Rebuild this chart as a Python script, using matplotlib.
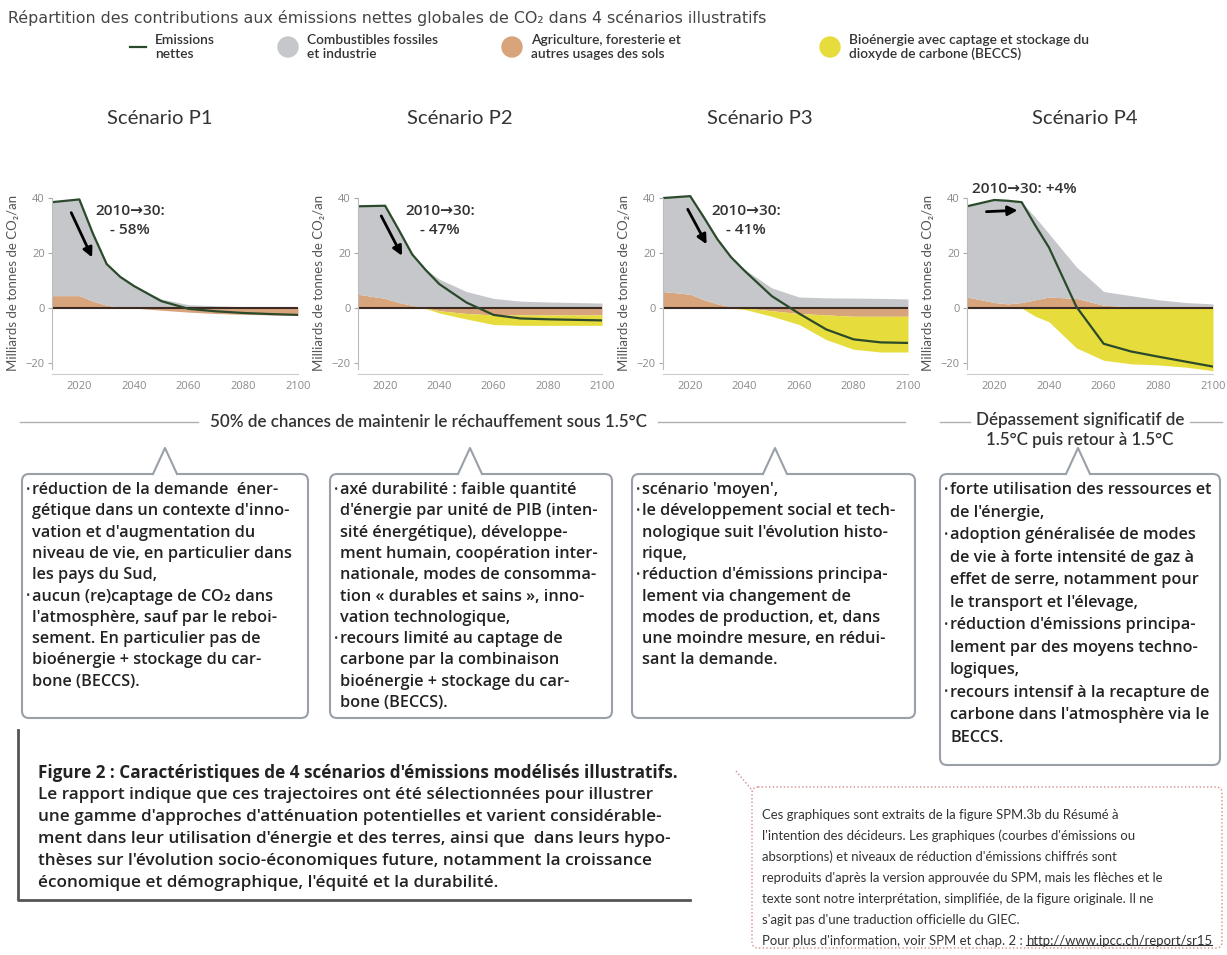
import matplotlib.pyplot as plt
from matplotlib.patches import FancyBboxPatch, Circle, Polygon
import numpy as np

W, H = 1227, 955

# data (Gt CO2 / an)
years = [2010, 2020, 2025, 2030, 2035, 2040, 2050, 2060, 2070, 2080, 2090, 2100]

p1_ffi = [34, 35, 24.5, 15, 11, 8, 3.3, 1.2, 0.8, 0.5, 0.3, 0.2]
p1_afolu = [4.5, 4.5, 2.5, 1, 0.3, 0, -0.8, -1.5, -2, -2.3, -2.5, -2.7]
p1_beccs = [0, 0, 0, 0, 0, 0, 0, 0, 0, 0, 0, 0]
p1_net = [38.5, 39.5, 27, 16, 11.3, 8, 2.5, -0.3, -1.2, -1.8, -2.2, -2.5]

p2_ffi = [32, 33.7, 26.5, 18.5, 14, 10.5, 6, 3.5, 2.5, 2.2, 2, 1.8]
p2_afolu = [5, 3.5, 2, 1, 0, -1, -2, -2.5, -2.5, -2.5, -2.5, -2.5]
p2_beccs = [0, 0, 0, 0, 0.2, 0.8, 2, 3.5, 3.8, 3.8, 3.8, 3.8]
p2_net = [37, 37.2, 28.5, 19.5, 13.8, 8.7, 2, -2.5, -3.8, -4.1, -4.3, -4.5]

p3_ffi = [34, 35.7, 30, 23.5, 18, 14, 7.3, 4, 3.7, 3.6, 3.5, 3.3]
p3_afolu = [6, 5, 3, 1.5, 0.5, 0, -1, -2, -2.5, -3, -3, -3]
p3_beccs = [0, 0, 0, 0, 0, 0.5, 2, 4, 9, 12, 13, 13]
p3_net = [40, 40.7, 33, 25, 18.5, 13.5, 4.3, -2, -7.8, -11.4, -12.5, -12.7]

p4_ffi = [33, 37.3, 37.5, 36.5, 30, 23, 11.5, 5, 4, 2.5, 1.5, 1]
p4_afolu = [4, 2, 1.5, 2, 3, 4, 3.5, 1, 0.5, 0.5, 0.5, 0.5]
p4_beccs = [0, 0, 0, 0, 3, 5, 14.5, 19, 20.3, 20.7, 21.5, 22.8]
p4_net = [37, 39.3, 39, 38.5, 30, 22, 0.5, -13, -15.8, -17.7, -19.5, -21.3]

scenarios = ['Scénario P1', 'Scénario P2', 'Scénario P3', 'Scénario P4']
changes = ['2010→30:\n- 58%', '2010→30:\n- 47%', '2010→30:\n- 41%', '2010→30: +4%']
xticks = [2020, 2040, 2060, 2080, 2100]
yticks = [40, 20, 0, -20]

box1 = ["• réduction de la demande  éner-", "gétique dans un contexte d'inno-",
        "vation et d'augmentation du", "niveau de vie, en particulier dans",
        "les pays du Sud,", "• aucun (re)captage de CO₂ dans",
        "l'atmosphère, sauf par le reboi-", "sement. En particulier pas de",
        "bioénergie + stockage du car-", "bone (BECCS)."]
box2 = ["• axé durabilité : faible quantité", "d'énergie par unité de PIB (inten-",
        "sité énergétique), développe-", "ment humain, coopération inter-",
        "nationale, modes de consomma-", "tion « durables et sains », inno-",
        "vation technologique,", "• recours limité au captage de",
        "carbone par la combinaison", "bioénergie + stockage du car-",
        "bone (BECCS)."]
box3 = ["• scénario 'moyen',", "• le développement social et tech-",
        "nologique suit l'évolution histo-", "rique,",
        "• réduction d'émissions principa-", "lement via changement de",
        "modes de production, et, dans", "une moindre mesure, en rédui-",
        "sant la demande."]
box4 = ["• forte utilisation des ressources et", "de l'énergie,",
        "• adoption généralisée de modes", "de vie à forte intensité de gaz à",
        "effet de serre, notamment pour", "le transport et l'élevage,",
        "• réduction d'émissions principa-", "lement par des moyens techno-",
        "logiques,", "• recours intensif à la recapture de",
        "carbone dans l'atmosphère via le", "BECCS."]

caption = ["Figure 2 : Caractéristiques de 4 scénarios d'émissions modélisés illustratifs.",
           "Le rapport indique que ces trajectoires ont été sélectionnées pour illustrer",
           "une gamme d'approches d'atténuation potentielles et varient considérable-",
           "ment dans leur utilisation d'énergie et des terres, ainsi que  dans leurs hypo-",
           "thèses sur l'évolution socio-économiques future, notamment la croissance",
           "économique et démographique, l'équité et la durabilité."]

note = ["Ces graphiques sont extraits de la figure SPM.3b du Résumé à",
        "l'intention des décideurs. Les graphiques (courbes d'émissions ou",
        "absorptions) et niveaux de réduction d'émissions chiffrés sont",
        "reproduits d'après la version approuvée du SPM, mais les flèches et le",
        "texte sont notre interprétation, simplifiée, de la figure originale. Il ne",
        "s'agit pas d'une traduction officielle du GIEC."]
note_link = ("Pour plus d'information, voir SPM et chap. 2 : ", "http://www.ipcc.ch/report/sr15")

GRAY = '#c6c7cb'
BROWN = '#d8a47c'
YELLOW = '#e6dc3c'
NET = '#2b4a2b'
TXT = '#333333'
BODY = ['Open Sans', 'DejaVu Sans']
NARROW = ['Lato', 'DejaVu Sans']

plt.rcParams['font.family'] = BODY

fig = plt.figure(figsize=(W / 100, H / 100), dpi=100)

# overlay in pixel units for all the decoration
ov = fig.add_axes([0, 0, 1, 1], zorder=0)
ov.set_xlim(0, W)
ov.set_ylim(H, 0)
ov.axis('off')
renderer = fig.canvas.get_renderer()


def fit_size(s, target, **kw):
    # font size giving the text the width it has in the picture
    t = ov.text(0, 0, s, fontsize=10, **kw)
    w = t.get_window_extent(renderer).width
    t.remove()
    return 10 * target / w


fs_title = fit_size("Répartition des contributions aux émissions nettes globales de CO₂ dans 4 scénarios illustratifs",
                    757, family=['DejaVu Sans'])
ov.text(8, 18, "Répartition des contributions aux émissions nettes globales de CO₂ dans 4 scénarios illustratifs",
        fontsize=fs_title, color='#444444', va='center', family=['DejaVu Sans'])

# legend
fs_leg = fit_size("Bioénergie avec captage et stockage du", 242, family=NARROW, fontweight='semibold')
ov.plot([130, 146], [47, 47], color=NET, lw=1.6)
ov.text(155, 47, "Emissions\nnettes", fontsize=fs_leg, va='center', color=TXT, linespacing=1.15,
        family=NARROW, fontweight='semibold')
for cx, col, lab in [(288, GRAY, "Combustibles fossiles\net industrie"),
                     (512, BROWN, "Agriculture, foresterie et\nautres usages des sols"),
                     (830, YELLOW, "Bioénergie avec captage et stockage du\ndioxyde de carbone (BECCS)")]:
    ov.add_patch(Circle((cx, 47), 10, color=col))
    ov.text(cx + 19, 47, lab, fontsize=fs_leg, va='center', color=TXT, linespacing=1.15,
            family=NARROW, fontweight='semibold')

# charts
axes_x = [(52, 298), (358, 602), (663, 908), (967, 1213)]
title_x = [160, 460, 760, 1085]
top, bottom = 192, 374
series = [(p1_ffi, p1_afolu, p1_beccs, p1_net), (p2_ffi, p2_afolu, p2_beccs, p2_net),
          (p3_ffi, p3_afolu, p3_beccs, p3_net), (p4_ffi, p4_afolu, p4_beccs, p4_net)]
arrows = [((2016.6, 35.6), (2025.1, 17.5)), ((2018.1, 34.4), (2026.7, 18.1)),
          ((2018.6, 36.8), (2026.5, 22.3)), ((2016.1, 35.0), (2029.5, 35.6))]
label_pos = [(2038.5, 31.7), (2040.3, 31.7), (2040.6, 31.7), (2011.9, 43.2)]

fs_scen = fit_size("Scénario P1", 106, family=NARROW)
fs_ylab = fit_size("Milliards de tonnes de CO₂/an", 175, family=NARROW)
fs_chg = fit_size("2010→30:", 70, fontweight='semibold')

for i, (x0, x1) in enumerate(axes_x):
    ax = fig.add_axes([x0 / W, 1 - bottom / H, (x1 - x0) / W, (bottom - top) / H], zorder=2)
    ax.patch.set_alpha(0)
    ffi, afolu, beccs, net = [np.array(s, dtype=float) for s in series[i]]
    pos_af = np.clip(afolu, 0, None)
    neg_af = np.clip(afolu, None, 0)
    ax.fill_between(years, 0, pos_af, color=BROWN, lw=0)
    ax.fill_between(years, pos_af, pos_af + ffi, color=GRAY, lw=0)
    ax.fill_between(years, 0, neg_af, color=BROWN, lw=0)
    ax.fill_between(years, neg_af, neg_af - beccs, color=YELLOW, lw=0)
    ax.hlines(0, years[0], years[-1], color='#3b2b22', lw=1.5)
    ax.plot(years, net, color=NET, lw=1.6)
    ax.set_xlim(2010, 2100)
    ax.set_ylim(-24, 42.2)
    ax.set_xticks(xticks)
    ax.set_yticks(yticks)
    ax.tick_params(axis='x', length=0, labelsize=8, labelcolor='#8a8a8a', pad=5)
    ax.tick_params(axis='y', length=3, color='#aaaaaa', labelsize=8, labelcolor='#8a8a8a', pad=2)
    for s in ['top', 'right']:
        ax.spines[s].set_visible(False)
    ax.spines['left'].set_color('#bbbbbb')
    ax.spines['bottom'].set_color('#cccccc')
    ax.spines['left'].set_bounds(-22, 40)
    ax.set_ylabel("Milliards de tonnes de CO₂/an", fontsize=fs_ylab, color='#555555', labelpad=5,
                  family=NARROW)
    (sx, sy), (ex, ey) = arrows[i]
    ax.annotate('', xy=(ex, ey), xytext=(sx, sy),
                arrowprops=dict(arrowstyle='-|>', lw=2, color='black', mutation_scale=14))
    lx, ly = label_pos[i]
    ax.text(lx, ly, changes[i], fontsize=fs_chg, fontweight='semibold', color=TXT,
            ha='left' if i == 3 else 'center', va='center', linespacing=1.45, clip_on=False)
    ov.text(title_x[i], 118, scenarios[i], fontsize=fs_scen, color=TXT, ha='center', va='center',
            family=NARROW)

# temperature statements
fs_temp = fit_size("50% de chances de maintenir le réchauffement sous 1.5°C", 440, family=NARROW,
                   fontweight='semibold')
ov.plot([20, 198], [422, 422], color='#b0b0b0', lw=1)
ov.plot([658, 905], [422, 422], color='#b0b0b0', lw=1)
ov.text(428, 422, "50% de chances de maintenir le réchauffement sous 1.5°C", fontsize=fs_temp,
        fontweight='semibold', color=TXT, ha='center', va='center', family=NARROW)
ov.plot([940, 970], [422, 422], color='#b0b0b0', lw=1)
ov.plot([1190, 1222], [422, 422], color='#b0b0b0', lw=1)
ov.text(1080, 430, "Dépassement significatif de\n1.5°C puis retour à 1.5°C", fontsize=fs_temp,
        fontweight='semibold', color=TXT, ha='center', va='center', linespacing=1.3, family=NARROW)

# callout boxes
fs_box = fit_size("forte utilisation des ressources et", 262, fontweight='semibold')
boxes = [(22, 308, 474, 718, 165, 21.3, box1), (330, 612, 474, 718, 470, 21.3, box2),
         (632, 915, 474, 718, 775, 21.3, box3), (940, 1220, 474, 765, 1078, 22.5, box4)]
for bl, br, bt, bb, nx, step, lines in boxes:
    ov.add_patch(FancyBboxPatch((bl, bt), br - bl, bb - bt, boxstyle='round,pad=0,rounding_size=7',
                                fc='white', ec='#9aa0a8', lw=1.5))
    ov.add_patch(Polygon([(nx - 12, bt + 1.5), (nx, bt - 26), (nx + 12, bt + 1.5)], fc='white', ec='none'))
    ov.plot([nx - 12, nx, nx + 12], [bt, bt - 26, bt], color='#9aa0a8', lw=1.5)
    for k, line in enumerate(lines):
        y = bt + 16 + k * step
        if line.startswith('• '):
            ov.text(bl + 4, y, '•', fontsize=fs_box * 0.7, color=TXT, va='center')
            line = line[2:]
        ov.text(bl + 10, y, line, fontsize=fs_box, fontweight='semibold', color='#222222', va='center')

# caption block
fs_cap = fit_size(caption[0], 617, fontweight='semibold')
ov.plot([18, 18, 690], [730, 900, 900], color='#555555', lw=2)
for k, line in enumerate(caption):
    ov.text(38, 773 + k * 22, line, fontsize=fs_cap, color='#222222', va='center',
            fontweight='bold' if k == 0 else 'semibold')

# note box
fs_note = min(fit_size(note[3], 451, family=NARROW),
              fit_size(note_link[0] + note_link[1], 450, family=NARROW))
ov.add_patch(FancyBboxPatch((752, 787), 470, 161, boxstyle='round,pad=0,rounding_size=6',
                            fc='none', ec='#d08a8a', lw=1, ls=':'))
ov.plot([736, 752], [771, 790], color='#d08a8a', lw=1, ls=':')
for k, line in enumerate(note):
    ov.text(762, 815 + k * 21, line, fontsize=fs_note, color='#333333', va='center', family=NARROW)
t = ov.text(762, 941, note_link[0], fontsize=fs_note, color='#333333', va='center', family=NARROW)
u = ov.annotate(note_link[1], xy=(1, 0.5), xycoords=t, fontsize=fs_note, color='#333333',
                va='center', family=NARROW)
fig.canvas.draw()
ub = u.get_window_extent(renderer)
inv = ov.transData.inverted()
(ux0, uy0), (ux1, uy1) = inv.transform([(ub.x0, ub.y0 + 2), (ub.x1, ub.y0 + 2)])
ov.plot([ux0, ux1], [uy0, uy1], color='#333333', lw=0.8)

fig.savefig('out.png', dpi=100)
